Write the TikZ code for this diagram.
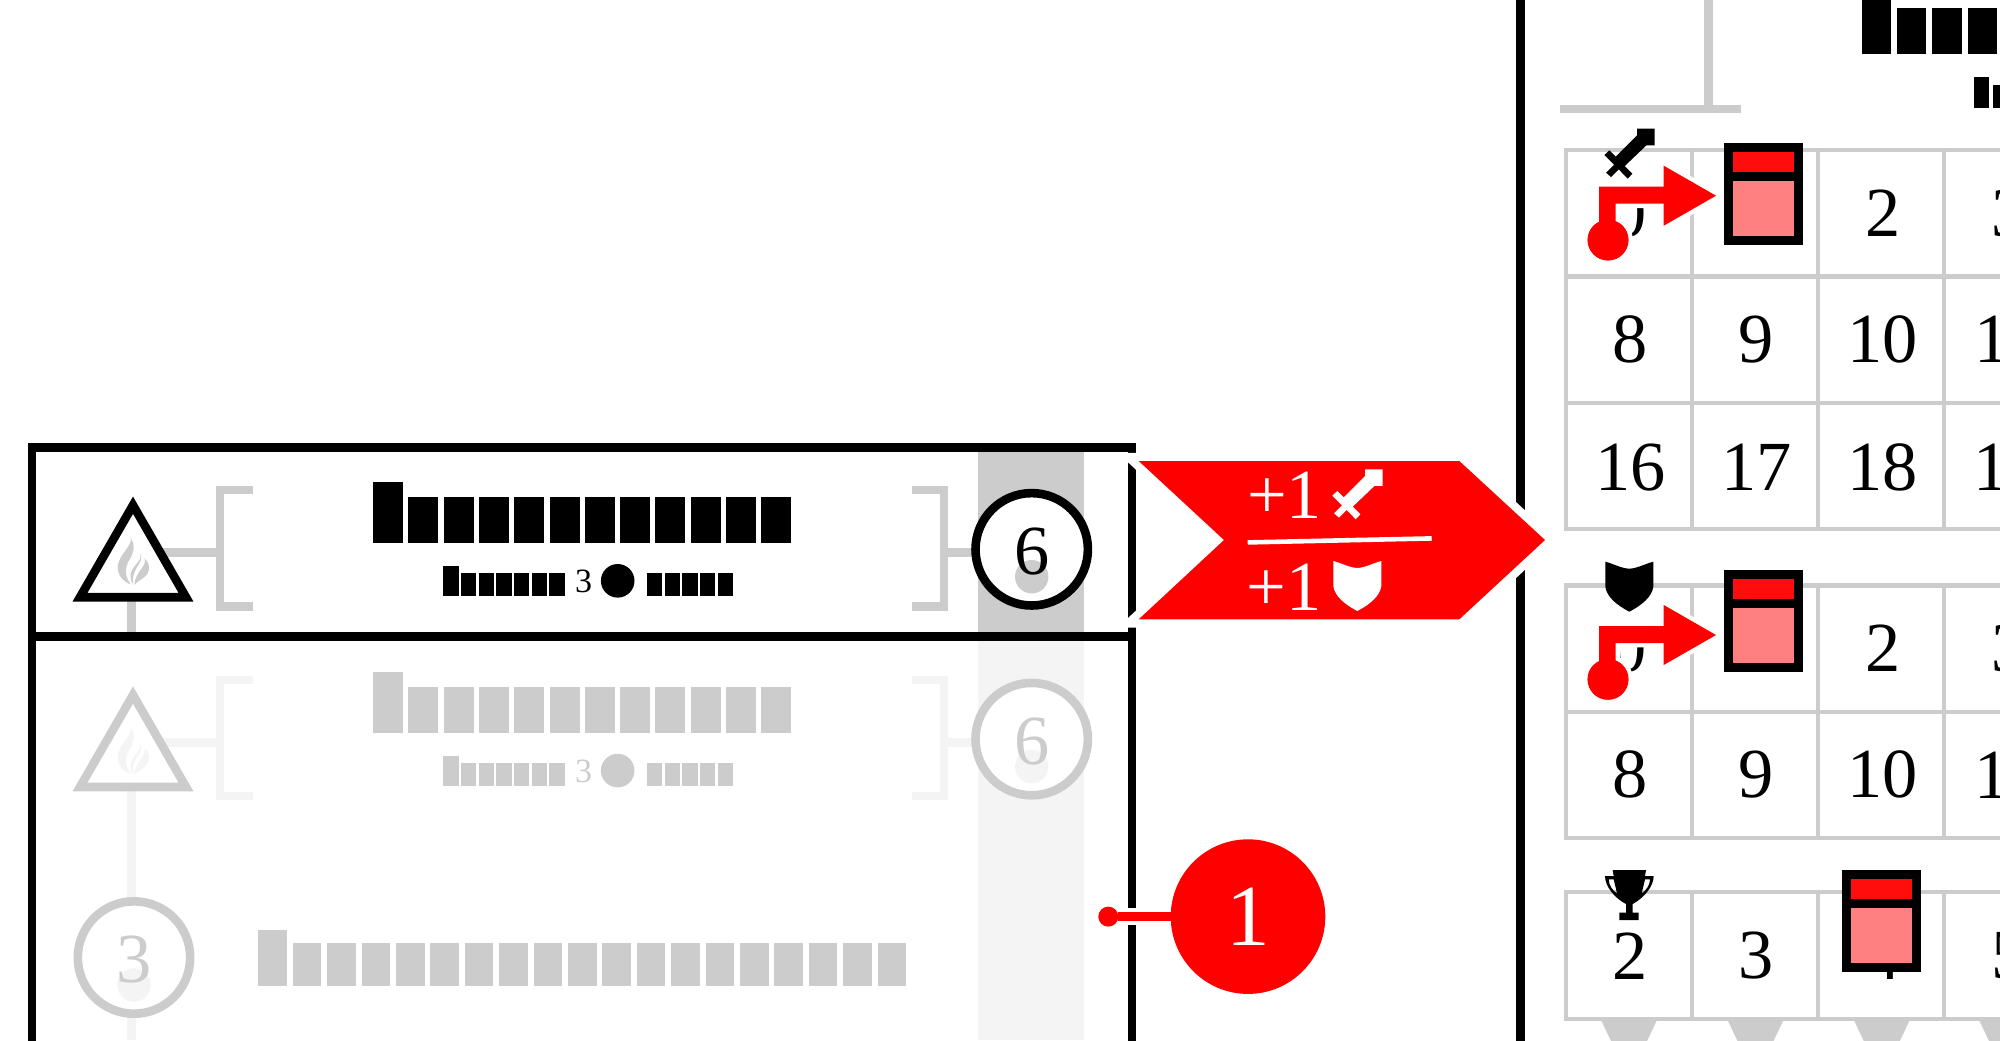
\documentclass[tikz,border=0pt]{standalone}
\usepackage{fontspec}
\setmainfont{Liberation Serif}
\definecolor{midgray}{HTML}{CCCCCC}
\definecolor{softgray}{HTML}{F4F4F4}
\definecolor{bookred}{HTML}{FF0D0D}
\definecolor{bookpink}{HTML}{FF8080}
\tikzset{
  frameline/.style={draw=black,line width=4.3pt,line join=miter},
  linkline/.style={line width=4.25pt},
  gridline/.style={draw=midgray,line width=2.1pt},
  numtext/.style={font=\fontsize{35.2}{36}\selectfont,inner sep=0pt,outer sep=0pt,text=black},
  smalltext/.style={font=\fontsize{17}{18}\selectfont,inner sep=0pt,outer sep=0pt},
  ringnode/.style={circle,line width=4.3pt,fill=white,minimum size=56.2pt,inner sep=0pt,outer sep=0pt},
  spotnode/.style={circle,minimum size=16.7pt,inner sep=0pt,outer sep=0pt},
  reddot/.style={circle,fill=red,inner sep=0pt,outer sep=0pt},
}
\newcommand\swordshape[3]{\fill[#3,shift={(#1,#2)},scale=1/3]
  (-53,0)--(0,0)--(0,50)--(-25,50)--(-90,112)--(-67,135)--(-81,150)--(-108,122)--(-131,145)--(-146,132)--(-122,108)--(-151,79)--(-136,65)--(-117,84)--(-53,20)--cycle;}
\newcommand\shieldshape[3]{\fill[#3,shift={(#1,#2)},scale=1/3]
  (0,0) .. controls (24,6) and (48,20) .. (72,21) .. controls (96,20) and (120,6) .. (144,0)
  -- (144,75) .. controls (140,105) and (110,130) .. (72,150) .. controls (34,130) and (4,105) .. (0,75) -- cycle;}
\newcommand\bookicon[2]{%
  \fill[bookpink] (#1+4,#2+33) rectangle (#1+74,#2+97);
  \fill[bookred] (#1+4,#2+4) rectangle (#1+74,#2+33);
  \draw[frameline] (#1+4.25,#2+4.25) rectangle (#1+74.25,#2+97.25);
  \draw[frameline] (#1,#2+33.4) -- (#1+78.5,#2+33.4);
}
\newcommand\barrun[8]{% x0,pitch,width,n,ytall,ytop,ybot,colour
  \pgfmathsetmacro\barlast{#4-1}
  \foreach \i in {0,...,\barlast}{
    \pgfmathsetmacro\barx{#1+#2*\i}
    \ifnum\i=0 \fill[#8] (\barx,#5) rectangle (\barx+#3,#7);
    \else \fill[#8] (\barx,#6) rectangle (\barx+#3,#7); \fi
  }
}
\newcommand\flameshape[1]{%
  \begin{scope}[shift={(100,525)},scale=1/3]
    \fill[#1] (92,38) .. controls (100,60) and (55,90) .. (53,125)
      .. controls (52,150) and (70,170) .. (92,178)
      .. controls (72,150) and (75,125) .. (88,105)
      .. controls (100,85) and (108,65) .. (92,38) -- cycle;
    \fill[#1] (122,85) .. controls (128,105) and (100,120) .. (92,145)
      .. controls (90,160) and (95,170) .. (98,178)
      .. controls (98,160) and (100,145) .. (110,128)
      .. controls (118,115) and (128,105) .. (122,85) -- cycle;
    \fill[#1] (133,100) .. controls (150,115) and (150,130) .. (143,145)
      .. controls (135,160) and (115,165) .. (103,180)
      .. controls (103,160) and (115,145) .. (125,130)
      .. controls (133,118) and (138,110) .. (133,100) -- cycle;
  \end{scope}
}
\newcommand\rowblock[5]{%
  \begin{scope}[shift={(0,#1)}]
    \draw[#3,linkline] (133,552.5) -- (220,552.5);
    \draw[#3,linkline,line join=miter] (253,490) -- (220,490) -- (220,606.3) -- (253,606.3);
    \draw[#3,linkline,line join=miter] (911.5,490) -- (944.2,490) -- (944.2,606.3) -- (911.5,606.3);
    \draw[fill=white,draw=#2,line width=4.3pt,line join=miter] (133,505.2) -- (186,597.2) -- (80,597.2) -- cycle;
    \flameshape{#3}
    \barrun{373}{35.3}{30}{12}{482.3}{496.7}{543.3}{#2}
    \barrun{443.2}{17.7}{15.3}{7}{565.7}{573.3}{596.3}{#2}
    \barrun{647}{17.7}{15.3}{5}{573.3}{573.3}{596.3}{#2}
    \node[smalltext,text=#4] (sub#5) at (583.5,581.5) {3};
    \node[circle,fill=#2,minimum size=16.8pt,inner sep=0pt,outer sep=0pt] (dot#5) at (617.7,580.8) {};
    \coordinate (brk#5) at (944.2,552.5);
    \coordinate (ringc#5) at (1031.7,549.3);
    \draw[#3,linkline] (brk#5) -- (ringc#5 |- brk#5);
    \node[ringnode,draw=#2] (ring#5) at (ringc#5) {};
    \node[spotnode,fill=#3] (spot#5) at (1031.7,576.7) {};
    \node[numtext,text=#4] (six#5) at (1031.7,552) {6};
  \end{scope}
}
\newcommand\gridblock[2]{%
  \pgfmathsetmacro\gridbot{#1+126.4*#2}
  \foreach \cx in {1566.3,1692.3,1818.3,1944.3} \draw[gridline] (\cx,#1-2.1) -- (\cx,\gridbot+2.1);
  \foreach \r in {0,...,#2} \draw[gridline] (1564.2,#1+126.4*\r) -- (2010,#1+126.4*\r);
}
\newcommand\redpointer[1]{%
  \begin{scope}[shift={(0,#1)}]
    \node[reddot,minimum size=20.4pt,preaction={draw=white,line width=4.35pt}] (ptr#1) at (1608,240) {};
    \path[fill=red,preaction={draw=white,line width=4.35pt,line join=miter}]
      (1599,240) -- (1599,186.7) -- (1663.7,186.7) -- (1663.7,165.7) -- (1716,195.7)
      -- (1663.7,225.7) -- (1663.7,203.7) -- (1615.7,203.7) -- (1615.7,240) -- cycle;
    \node[reddot,minimum size=20.4pt] (ptrb#1) at (1608,240) {};
  \end{scope}
}
\begin{document}
\begin{tikzpicture}[x=0.5pt,y=-0.5pt]
\useasboundingbox (0,0) rectangle (2000,1040);
\clip (0,0) rectangle (2000,1040);
\fill[white] (0,0) rectangle (2000,1040);
\fill[softgray] (978,641) rectangle (1084,1040);
\fill[midgray] (978,451) rectangle (1084,632);
\draw[midgray,linkline] (131.6,597) -- (131.6,632);
\draw[softgray,linkline] (131.6,787) -- (131.6,1040);
\draw[frameline] (32,1050) -- (32,447.5) -- (1132,447.5) -- (1132,1050);
\draw[frameline] (27.8,636.5) -- (1136.3,636.5);
\draw[frameline] (1520.4,-10) -- (1520.4,1050);
\rowblock{0}{black}{midgray}{black}{A}
\rowblock{189.8}{midgray}{softgray}{midgray}{B}
\node[ringnode,draw=midgray] (ringC) at (134,957.5) {};
\node[spotnode,fill=softgray] (spotC) at (134,985) {};
\node[numtext,text=midgray] (threeC) at (134,960) {3};
\barrun{258.3}{34.4}{28.7}{19}{930}{943.3}{985.7}{midgray}
\node[reddot,minimum size=10pt] (calldot) at (1108.3,916.6) {};
\node[circle,fill=red,minimum size=77.3pt,inner sep=0pt,outer sep=0pt,text=white,font=\fontsize{43.6}{44}\selectfont] (callout) at (1248,916.6) {1};
\draw[white,line width=8.5pt] (calldot) -- (callout);
\draw[red,line width=4.25pt] (calldot) -- (callout);
\draw[midgray,linkline] (1708.7,-5) -- (1708.7,109);
\draw[midgray,linkline] (1560,109) -- (1741.3,109);
\barrun{1861.7}{35.3}{29.4}{5}{-10}{8}{54.3}{black}
\barrun{1974.3}{18.2}{14.7}{3}{77.3}{84.7}{107.7}{black}
\foreach \cx in {1629,1755.5,1881.8,2007}
  \fill[midgray] (\cx-27.5,1021) -- (\cx+27.5,1021) -- (\cx+18,1041) -- (\cx-18,1041) -- cycle;
\gridblock{150}{3}
\gridblock{585.4}{2}
\draw[gridline] (1566.3,890) -- (1566.3,1021.4);
\draw[gridline] (1692.3,890) -- (1692.3,1021.4);
\draw[gridline] (1818.3,890) -- (1818.3,1021.4);
\draw[gridline] (1944.3,890) -- (1944.3,1021.4);
\draw[gridline] (1564.2,892) -- (2010,892);
\draw[gridline] (1564.2,1019.3) -- (2010,1019.3);
\foreach \t/\n/\x/\y in {a0/0/1629.3/213.2,a1/1/1756.5/213.2,a2/2/1882.8/213.2,a3/3/2008.8/213.2,
  a8/8/1630.5/339.6,a9/9/1756.5/339.6,a10/10/1882.8/339.6,a11/11/2008.8/339.6,
  a16/16/1630.5/467.5,a17/17/1756.5/467.5,a18/18/1882.8/467.5,a19/19/2008.8/467.5,
  b0/0/1629.3/648.5,b1/1/1756.5/648.5,b2/2/1882.8/648.5,b3/3/2008.8/648.5,
  b8/8/1630.5/774.9,b9/9/1756.5/774.9,b10/10/1882.8/774.9,b11/11/2008.8/774.9,
  c2/2/1630.5/956,c3/3/1756.5/956,c4/4/1882.8/956,c5/5/2008.8/956}
  \node[numtext] (num\t) at (\x,\y) {\n};
\swordshape{1654.7}{128.7}{black}
\shieldshape{1605.3}{561.7}{black}
\begin{scope}[shift={(1500,820)},scale=1/3]
  \fill[black,even odd rule] (338,150) -- (438,150) -- (435,168) -- (461,168)
    .. controls (461,200) and (430,235) .. (398,252) -- (398,278) -- (416,278) -- (416,300)
    -- (358,300) -- (358,278) -- (378,278) -- (378,252)
    .. controls (345,235) and (315,200) .. (315,168) -- (341,168) -- cycle
    (326,178) -- (341,178) -- (351,220) .. controls (338,212) and (326,195) .. (326,178) -- cycle
    (450,178) -- (435,178) -- (425,220) .. controls (438,212) and (450,195) .. (450,178) -- cycle;
\end{scope}
\redpointer{0}
\redpointer{439.3}
\bookicon{1724.3}{143.3}
\bookicon{1724.3}{570}
\bookicon{1842.3}{870}
\path[fill=red,preaction={draw=white,line width=8.25pt,line join=miter}]
  (1138.7,461) -- (1459.3,461) -- (1545,540) -- (1459.3,619.3) -- (1138.7,619.3) -- (1224,540) -- cycle;
\node[numtext,text=white,anchor=base east] (plusA) at (1322,518.3) {+1};
\node[numtext,text=white,anchor=base east] (plusB) at (1321.3,610) {+1};
\draw[white,line width=2.3pt] (1247.7,542.4) -- (1431.7,538.4);
\swordshape{1382.7}{469.3}{white}
\shieldshape{1333.3}{561}{white}
\end{tikzpicture}
\end{document}
